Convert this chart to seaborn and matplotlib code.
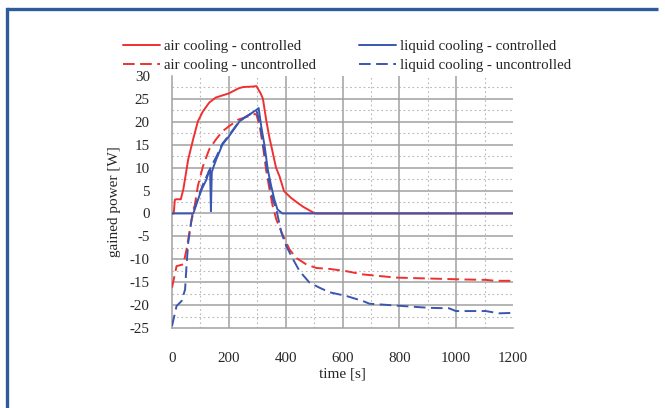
import numpy as np
import pandas as pd
import matplotlib
matplotlib.use("Agg")
import matplotlib.pyplot as plt
import seaborn as sns
from matplotlib.lines import Line2D
from matplotlib.ticker import MultipleLocator

sns.set_style("white")
plt.rcParams['font.family'] = ['Liberation Serif', 'DejaVu Serif']
plt.rcParams['axes.unicode_minus'] = False

# ---- data ----
air_ctrl_t = [0, 6, 10, 15, 31, 40, 57, 74, 91, 109, 131, 154, 200, 234, 251, 286, 297,
              312, 320, 332, 343, 352, 366, 379, 394, 417, 440, 463, 486, 497, 505, 1200]
air_ctrl_v = [0, 0, 3.0, 3.1, 3.1, 5.3, 11.8, 16.1, 20.1, 22.3, 24.2, 25.3, 26.2, 27.3, 27.6, 27.7, 27.8,
              26.2, 25.0, 20.2, 16.5, 14.0, 10.0, 8.0, 4.9, 3.5, 2.4, 1.4, 0.6, 0.2, 0, 0]

air_unc_t = [0, 16, 40, 51, 63, 75, 80, 91, 109, 131, 154, 177, 200, 234, 269, 291, 297,
             309, 320, 331, 343, 354, 367, 391, 414, 437, 472, 508, 554, 613, 671, 788,
             905, 1022, 1104, 1140, 1200]
air_unc_v = [-16.2, -11.5, -11.1, -7.9, -3.5, 0.9, 1.7, 6.0, 10.3, 14.0, 16.1, 17.9, 19.0, 20.5, 21.2, 21.7, 21.6,
             19.0, 14.7, 9.6, 5.3, 1.7, -1.3, -4.9, -7.9, -9.7, -11.1, -11.9, -12.1, -12.6, -13.3, -14.0,
             -14.2, -14.4, -14.5, -14.7, -14.7]

liq_ctrl_t = [0, 75, 92, 104, 122, 130, 134, 137, 140, 145, 157, 168, 177, 200, 239, 257, 280,
              297, 305, 314, 326, 337, 349, 360, 371, 388, 1200]
liq_ctrl_v = [0, 0, 3.1, 5.2, 7.5, 9.3, 9.5, 0.5, 9.0, 10.0, 12.0, 13.6, 15.0, 16.8, 20.2, 21.0, 21.9,
              22.6, 23.0, 19.0, 14.7, 9.6, 6.0, 3.1, 0.9, 0, 0]

liq_unc_t = [0, 16, 34, 46, 51, 57, 69, 80, 92, 110, 128, 140, 157, 177, 200, 234, 257, 280,
             297, 300, 312, 326, 340, 355, 367, 385, 402, 426, 449, 484, 519, 554, 613, 671,
             695, 788, 905, 975, 999, 1104, 1151, 1200]
liq_unc_v = [-24.6, -20.2, -19.1, -16.6, -11.5, -6.4, -1.3, 1.2, 3.5, 6.5, 8.9, 10.5, 12.5, 15.2, 17.0, 19.9, 21.0, 21.8,
             22.3, 22.0, 18.5, 13.0, 7.5, 3.0, 0.9, -4.2, -7.1, -10.0, -12.6, -15.1, -16.2, -17.2, -18.0, -19.1,
             -19.7, -20.1, -20.6, -20.7, -21.3, -21.3, -21.8, -21.7]

labels = ["air cooling - controlled", "air cooling - uncontrolled",
          "liquid cooling - controlled", "liquid cooling - uncontrolled"]

RED = "#f03030"
BLUE = "#3a56b0"
GRID = "#a0a0a0"
FS = 10.8
DASH = (0, (6, 2.8))

fig = plt.figure(figsize=(6.65, 4.08), dpi=100)
fig.patch.set_facecolor("white")
# decorative frame (left and top edges only are visible in the reference)
fx, fy = 7 / 665, 1 - 9 / 408
fig.add_artist(Line2D([fx, fx], [0, fy], transform=fig.transFigure,
                      color="#2f5b9a", lw=2.4, solid_capstyle="projecting"))
fig.add_artist(Line2D([fx, 0.99], [fy, fy], transform=fig.transFigure,
                      color="#2f5b9a", lw=2.4, solid_capstyle="butt"))

ax = fig.add_axes([172 / 665, 1 - 328 / 408, (513 - 172) / 665, (328 - 76) / 408])

series = [
    (air_ctrl_t, air_ctrl_v, RED, "-"),
    (air_unc_t, air_unc_v, RED, DASH),
    (liq_ctrl_t, liq_ctrl_v, BLUE, "-"),
    (liq_unc_t, liq_unc_v, BLUE, DASH),
]
for (t, v, c, ls), lab in zip(series, labels):
    df = pd.DataFrame({"t": t, "v": v})
    sns.lineplot(data=df, x="t", y="v", ax=ax, color=c, linestyle=ls,
                 linewidth=1.4, estimator=None, sort=False, label=lab, zorder=3)

ax.set_xlim(0, 1200)
ax.set_ylim(-25, 30)
ax.xaxis.set_major_locator(MultipleLocator(200))
ax.xaxis.set_minor_locator(MultipleLocator(100))
ax.yaxis.set_major_locator(MultipleLocator(5))
ax.yaxis.set_minor_locator(MultipleLocator(2.5))

# grid lines drawn manually so that 30 and 1200 have none
for yv in range(-20, 30, 5):
    ax.axhline(yv, color=GRID, lw=1.1, zorder=1)
for yv in np.arange(-22.5, 30, 5):
    ax.axhline(yv, color="#b8b8b8", lw=0.8, ls=(0, (1.5, 2.5)), zorder=1)
for xv in range(200, 1200, 200):
    ax.axvline(xv, color=GRID, lw=1.1, zorder=1)
for xv in range(100, 1200, 200):
    ax.axvline(xv, color="#b8b8b8", lw=0.8, ls=(0, (1.5, 2.5)), zorder=1)

for s in ["top", "right"]:
    ax.spines[s].set_visible(False)
for s in ["left", "bottom"]:
    ax.spines[s].set_color(GRID)
    ax.spines[s].set_linewidth(1.1)

ax.tick_params(axis="x", which="major", direction="out", length=11, width=1.0, color="#555555",
               labelsize=FS, pad=6)
ax.tick_params(axis="x", which="minor", direction="out", length=7.5, width=1.0, color="#555555")
ax.tick_params(axis="y", which="major", direction="out", length=12, width=1.0, color="#555555",
               labelsize=FS, pad=4)
ax.tick_params(axis="y", which="minor", direction="out", length=5, width=1.0, color="#555555")

ax.set_xlabel("time [s]", fontsize=11, labelpad=2)
ax.set_ylabel("gained power [W]", fontsize=11, labelpad=6)

h, l = ax.get_legend_handles_labels()
ax.get_legend().remove()
fig.legend(h, l, ncol=2, loc="upper left", bbox_to_anchor=(123 / 665, 1 - 40 / 408),
           frameon=False, fontsize=10.7, handlelength=2.5, handletextpad=0.25,
           columnspacing=2.9, labelspacing=0.35, borderpad=0, borderaxespad=0)

fig.savefig("out.png", dpi=100, facecolor="white")
